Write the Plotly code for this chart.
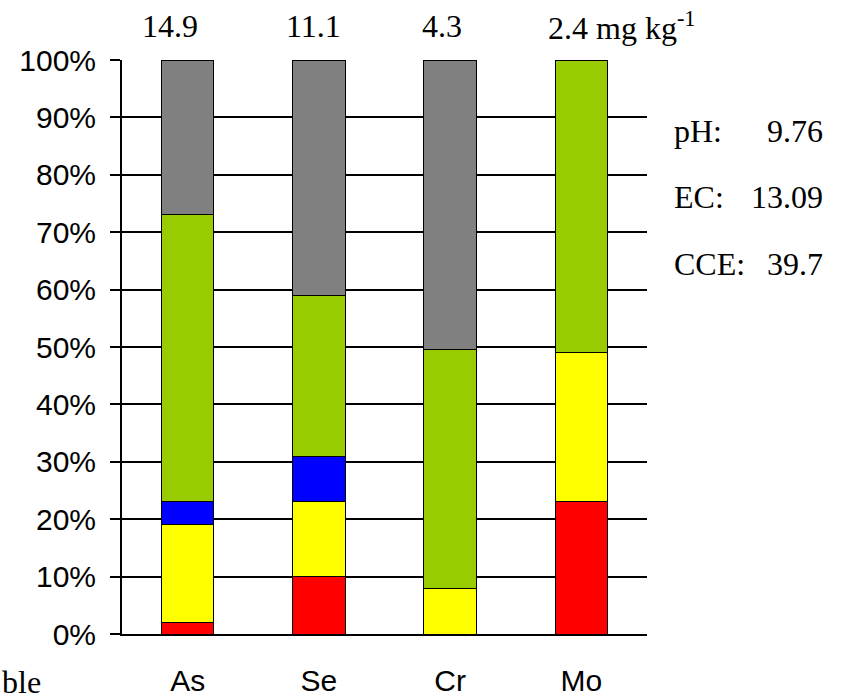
import plotly.graph_objects as go

elements = ["As", "Se", "Cr", "Mo"]
totals = ["14.9", "11.1", "4.3", "2.4"]
fraction_names = ["Fraction 1", "Fraction 2", "Fraction 3", "Fraction 4", "Fraction 5"]
fraction_colors = ["#FF0000", "#FFFF00", "#0000FF", "#99CC00", "#808080"]
# percent of total per fraction, per element (As, Se, Cr, Mo)
frac1 = [2, 10, 0, 23]
frac2 = [17, 13, 8, 26]
frac3 = [4, 8, 0, 0]
frac4 = [50, 28, 41.5, 51]
frac5 = [27, 41, 50.5, 0]
fractions = [frac1, frac2, frac3, frac4, frac5]
soil_props = [("pH:", "9.76"), ("EC:", "13.09"), ("CCE:", "39.7")]
y_ticks = [0, 10, 20, 30, 40, 50, 60, 70, 80, 90, 100]

W, H = 842, 700
ML, MR, MT, MB = 122, 195, 60, 66
plot_h = H - MT - MB

fig = go.Figure()
for name, col, vals in zip(fraction_names, fraction_colors, fractions):
    fig.add_trace(go.Bar(x=elements, y=vals, name=name, marker_color=col,
                         marker_line_color="black", marker_line_width=1, width=0.4))

fig.update_layout(
    barmode="stack", showlegend=False,
    width=W, height=H,
    margin=dict(l=ML, r=MR, t=MT, b=MB, autoexpand=False),
    plot_bgcolor="white", paper_bgcolor="white",
)
fig.update_yaxes(range=[0, 100], tickvals=y_ticks, ticktext=[f"{v}%" for v in y_ticks],
                 showgrid=True, gridcolor="black", gridwidth=1.5,
                 showline=True, linecolor="black", linewidth=2,
                 ticks="outside", ticklen=10, tickcolor="black", tickwidth=1.5,
                 ticklabelstandoff=8, automargin=False,
                 tickfont=dict(family="Liberation Sans, Arial", size=30, color="black"),
                 zeroline=False)
fig.update_xaxes(range=[-0.5, len(elements) - 0.5],
                 showline=True, linecolor="black", linewidth=2, ticks="",
                 tickfont=dict(family="Liberation Sans, Arial", size=30, color="black"),
                 ticklabelstandoff=19, automargin=False)

serif = dict(family="Liberation Serif, Times New Roman", size=32, color="black")
label_shifts = [-18, -5, -8, -35]
for i, (el, t) in enumerate(zip(elements, totals)):
    if i == len(elements) - 1:
        fig.add_annotation(x=el, y=1.0, xref="x", yref="paper", yanchor="middle",
                           text=f"{t} mg kg<sup>-1</sup>", showarrow=False, font=serif,
                           xanchor="left", xshift=label_shifts[i], yshift=34)
    else:
        fig.add_annotation(x=el, y=1.0, xref="x", yref="paper", yanchor="middle",
                           text=t, showarrow=False, font=serif,
                           xshift=label_shifts[i], yshift=34)

prop_centers = [131, 197, 264]
for (lab, val), ypix in zip(soil_props, prop_centers):
    yp = (H - MB - ypix) / plot_h
    fig.add_annotation(x=1.0, y=yp, xref="paper", yref="paper", text=lab, showarrow=False,
                       font=serif, xanchor="left", yanchor="middle", xshift=25)
    fig.add_annotation(x=1.0, y=yp, xref="paper", yref="paper", text=val, showarrow=False,
                       font=serif, xanchor="right", yanchor="middle", xshift=178)

fig.add_annotation(x=0, y=0, xref="paper", yref="paper", xshift=-ML, yshift=-48,
                   yanchor="middle", xanchor="left", text="ble", showarrow=False, font=serif)

fig.write_html("out.html")
